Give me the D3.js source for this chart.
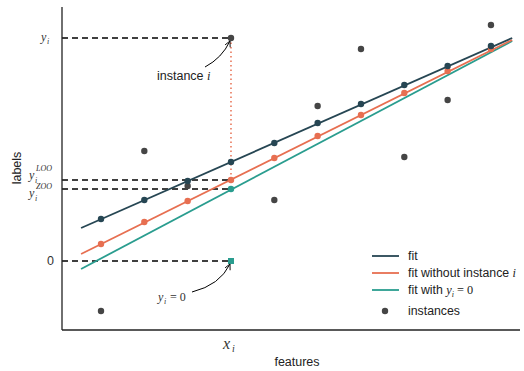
<!DOCTYPE html>
<html><head><meta charset="utf-8">
<script src="https://cdn.jsdelivr.net/npm/d3@7"></script>
<style>body{margin:0;background:#fff}svg{display:block}</style>
</head><body>
<svg id="c" width="524" height="371"></svg>
<script>
// ---- data ----
const featureX = [1,2,3,4,5,6,7,8,9,10];
const instances = [-5.0, 11.0, 7.5, 22.3, 6.1, 15.5, 21.2, 10.4, 16.1, 23.6];
const fitPred = [4.2, 6.1, 8.0, 9.9, 11.8, 13.8, 15.7, 17.6, 19.5, 21.5];
const looPred = [1.7, 3.9, 6.0, 8.1, 10.3, 12.5, 14.6, 16.8, 19.0, 21.2];
const lineEndsX = [0.54, 10.49];
const fitEnds = [3.3, 22.3];
const looEnds = [0.7, 22.1];
const zooEnds = [-0.8, 22.0];
const xi = 4;
const yi = 22.3, yLOO = 8.1, yZOO = 7.2, yZero = 0;
const legendLabels = ["fit", "fit without instance ", "fit with ", "instances"];
const colors = {fit:"#264653", loo:"#e76f51", zoo:"#2a9d8f", inst:"#454545"};

const svg = d3.select("#c");
const x = d3.scaleLinear().domain([0.1, 10.67]).range([62, 520]);
const y = d3.scaleLinear().domain([-6.9, 25.4]).range([330, 7]);
const serif = "'Liberation Serif', 'DejaVu Serif', serif";
const sans = "'Liberation Sans', Arial, sans-serif";

// dashed guide lines
[yi, yLOO, yZOO, yZero].forEach(v => {
  svg.append("line").attr("x1", x(0.1)).attr("x2", x(xi)).attr("y1", y(v)).attr("y2", y(v))
    .attr("stroke", "#000").attr("stroke-width", 1.6).attr("stroke-dasharray", "6,4");
});
// dotted vertical
svg.append("line").attr("x1", x(xi)).attr("x2", x(xi)).attr("y1", y(yi)).attr("y2", y(yLOO))
  .attr("stroke", colors.loo).attr("stroke-width", 1.5).attr("stroke-dasharray", "1.5,3");

// fit lines
const line = d3.line().x(d => x(d[0])).y(d => y(d[1]));
[[zooEnds, colors.zoo], [looEnds, colors.loo], [fitEnds, colors.fit]].forEach(([e, c]) => {
  svg.append("path").attr("d", line(lineEndsX.map((xx, k) => [xx, e[k]])))
    .attr("stroke", c).attr("stroke-width", 1.8).attr("fill", "none");
});

// instances
svg.selectAll("circle.inst").data(featureX).enter().append("circle")
  .attr("cx", d => x(d)).attr("cy", (d, k) => y(instances[k])).attr("r", 3.2).attr("fill", colors.inst);
// fit predictions
svg.selectAll("circle.loo").data(featureX).enter().append("circle")
  .attr("cx", d => x(d)).attr("cy", (d, k) => y(looPred[k])).attr("r", 3.2).attr("fill", colors.loo);
svg.selectAll("circle.fit").data(featureX).enter().append("circle")
  .attr("cx", d => x(d)).attr("cy", (d, k) => y(fitPred[k])).attr("r", 3.2).attr("fill", colors.fit);
// zoo point and square
svg.append("circle").attr("cx", x(xi)).attr("cy", y(yZOO)).attr("r", 3.2).attr("fill", colors.zoo);
svg.append("rect").attr("x", x(xi) - 3).attr("y", y(yZero) - 3).attr("width", 6).attr("height", 6).attr("fill", colors.zoo);

// spines
svg.append("line").attr("x1", 62).attr("x2", 62).attr("y1", 7).attr("y2", 330).attr("stroke", "#222").attr("stroke-width", 1.3);
svg.append("line").attr("x1", 62).attr("x2", 520).attr("y1", 330).attr("y2", 330).attr("stroke", "#222").attr("stroke-width", 1.3);

// tick labels
function mathLabel(xr, yc, sup) {
  const g = svg.append("g").attr("font-family", serif).attr("font-style", "italic").attr("fill", "#333");
  if (sup) {
    g.append("text").attr("x", xr - 26).attr("y", yc + 1).attr("font-size", 12).text("y");
    g.append("text").attr("x", xr - 20).attr("y", yc + 5).attr("font-size", 8).text("i");
    g.append("text").attr("x", xr - 19).attr("y", yc - 7).attr("font-size", 8).text(sup);
  } else {
    g.append("text").attr("x", xr - 14).attr("y", yc + 3).attr("font-size", 12).text("y");
    g.append("text").attr("x", xr - 8).attr("y", yc + 6).attr("font-size", 8).text("i");
  }
}
mathLabel(55, y(yi));
mathLabel(55, y(yLOO) - 2, "LOO");
mathLabel(55, y(yZOO) + 7, "ZOO");
svg.append("text").attr("x", 54).attr("y", y(yZero) + 4).attr("text-anchor", "end")
  .attr("font-family", sans).attr("font-size", 12.5).attr("fill", "#333").text("0");
// x tick label
const gx = svg.append("g").attr("font-family", serif).attr("font-style", "italic").attr("fill", "#333");
gx.append("text").attr("x", x(xi) - 8).attr("y", 349).attr("font-size", 16).text("x");
gx.append("text").attr("x", x(xi) + 1).attr("y", 352).attr("font-size", 10).text("i");

// axis labels
svg.append("text").attr("x", 297).attr("y", 366).attr("text-anchor", "middle")
  .attr("font-family", sans).attr("font-size", 12.5).attr("fill", "#222").text("features");
svg.append("text").attr("transform", "translate(21,168) rotate(-90)").attr("text-anchor", "middle")
  .attr("font-family", sans).attr("font-size", 12.5).attr("fill", "#222").text("labels");

// annotations
const defs = svg.append("defs");
defs.append("marker").attr("id", "ah").attr("viewBox", "0 0 10 10").attr("refX", 9).attr("refY", 5)
  .attr("markerWidth", 7).attr("markerHeight", 7).attr("orient", "auto-start-reverse")
  .append("path").attr("d", "M1,1 L9,5 L1,9").attr("fill", "none").attr("stroke", "#000").attr("stroke-width", 1.2);
const ax = x(xi);
svg.append("path").attr("d", `M205,67 Q222,58 ${ax - 1},${y(yi) + 3}`).attr("fill", "none")
  .attr("stroke", "#000").attr("stroke-width", 1).attr("marker-end", "url(#ah)");
svg.append("text").attr("x", 157).attr("y", 80).attr("font-family", sans).attr("font-size", 12.5).attr("fill", "#222")
  .text("instance ").append("tspan").attr("font-family", serif).attr("font-style", "italic").text("i");
svg.append("path").attr("d", `M192,292 Q220,285 ${ax - 1},${y(yZero) + 3}`).attr("fill", "none")
  .attr("stroke", "#000").attr("stroke-width", 1).attr("marker-end", "url(#ah)");
const t0 = svg.append("g").attr("font-family", serif).attr("fill", "#333");
t0.append("text").attr("x", 158).attr("y", 301).attr("font-size", 12).attr("font-style", "italic").text("y");
t0.append("text").attr("x", 164).attr("y", 304).attr("font-size", 8).attr("font-style", "italic").text("i");
t0.append("text").attr("x", 170).attr("y", 301).attr("font-size", 12).text("= 0");

// legend
const lg = svg.append("g").attr("font-family", sans).attr("font-size", 12.3).attr("fill", "#222");
const legColors = [colors.fit, colors.loo, colors.zoo];
legColors.forEach((c, k) => {
  lg.append("line").attr("x1", 372).attr("x2", 399).attr("y1", 256 + 17 * k).attr("y2", 256 + 17 * k)
    .attr("stroke", c).attr("stroke-width", 1.8);
});
lg.append("circle").attr("cx", 385).attr("cy", 311).attr("r", 3.2).attr("fill", colors.inst);
legendLabels.forEach((l, k) => {
  const tx = lg.append("text").attr("x", 408).attr("y", 260 + 17 * k + (k === 3 ? 4 : 0)).text(l);
  if (k === 1) tx.append("tspan").attr("font-family", serif).attr("font-style", "italic").text("i");
  if (k === 2) {
    tx.append("tspan").attr("font-family", serif).attr("font-style", "italic").text("y");
    tx.append("tspan").attr("font-family", serif).attr("font-style", "italic").attr("font-size", 8).attr("dy", 3).text("i");
    tx.append("tspan").attr("font-family", serif).attr("dy", -3).text(" = 0");
  }
});
</script>
</body></html>
